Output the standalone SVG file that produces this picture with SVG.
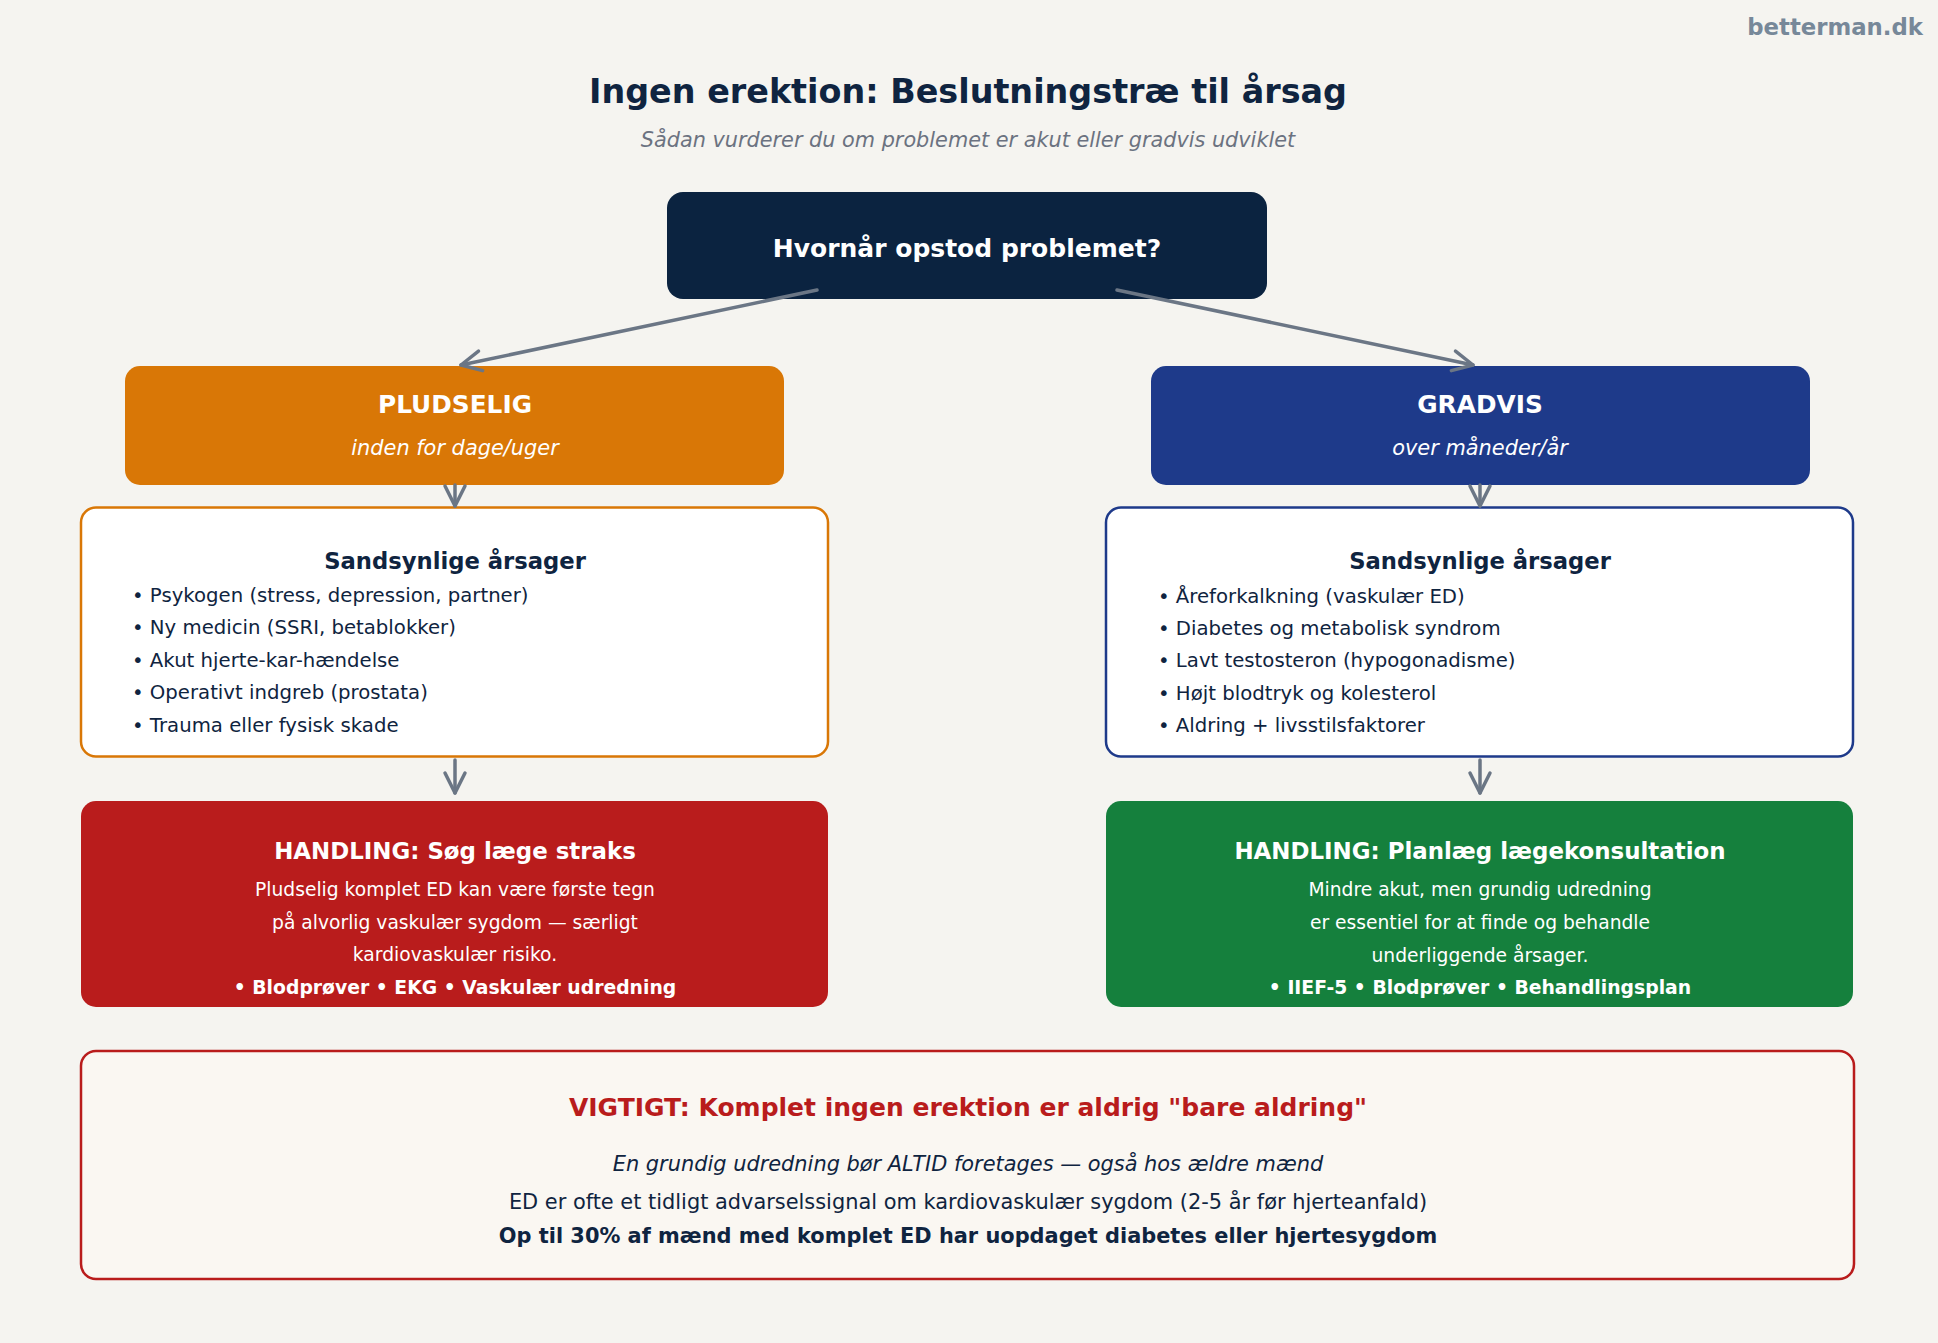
<svg xmlns="http://www.w3.org/2000/svg" width="1938" height="1343" viewBox="0 0 1938 1343">
<style>
text{font-family:"DejaVu Sans","Liberation Sans",sans-serif;}
.c{text-anchor:middle;}
.b{font-weight:bold;}
.i{font-style:italic;}
.w{fill:#ffffff;}
.d{fill:#0f2440;}
.conn{stroke:#6b7685;stroke-width:3.5;fill:none;stroke-linecap:round;}
.bul{font-size:19.7px;fill:#0f2440;}
.hd{font-size:22.7px;font-weight:bold;fill:#0f2440;text-anchor:middle;}
.at{font-size:22.9px;font-weight:bold;fill:#ffffff;text-anchor:middle;}
.ab{font-size:18.7px;fill:#ffffff;text-anchor:middle;}
.abb{font-size:18.8px;font-weight:bold;fill:#ffffff;text-anchor:middle;}
</style>
<defs>
<marker id="arr" markerUnits="userSpaceOnUse" viewBox="-24 -14 28 28" refX="0" refY="0" markerWidth="28" markerHeight="28" orient="auto">
<path d="M-20,-10 L0,0 L-20,10" fill="none" stroke="#6b7685" stroke-width="3.5" stroke-linecap="round" stroke-linejoin="round"/>
</marker>
</defs>
<rect x="0" y="0" width="1938" height="1343" fill="#f5f4f0"/>
<g transform="translate(0,1.5)">
<text x="1923" y="33" class="b" style="font-size:22.8px;fill:#778899;text-anchor:end">betterman.dk</text>
<text x="968" y="101" class="c b d" style="font-size:33.4px">Ingen erektion: Beslutningstræ til årsag</text>
<text x="968" y="145" class="c i" style="font-size:20.8px;fill:#6b7280">Sådan vurderer du om problemet er akut eller gradvis udviklet</text>
</g>

<g id="question">
<rect x="667" y="192" width="600" height="107" rx="16" fill="#0b2340"/>
<text x="967" y="257" class="c b w" style="font-size:25px">Hvornår opstod problemet?</text>
</g>

<g id="pludselig">
<rect x="125" y="366" width="659" height="119" rx="15" fill="#d97706"/>
<text x="455" y="413" class="c b w" style="font-size:24.8px">PLUDSELIG</text>
<text x="455" y="454.5" class="c i w" style="font-size:20.9px">inden for dage/uger</text>
</g>

<g id="gradvis">
<rect x="1151" y="366" width="659" height="119" rx="15" fill="#1e3a8a"/>
<text x="1480" y="413" class="c b w" style="font-size:24.8px">GRADVIS</text>
<text x="1480" y="454.5" class="c i w" style="font-size:20.9px">over måneder/år</text>
</g>

<g id="causes-left">
<rect x="81" y="507.5" width="747" height="249" rx="15" fill="#ffffff" stroke="#d97706" stroke-width="2.5"/>
<text x="455" y="568.5" class="hd">Sandsynlige årsager</text>
<text x="132" y="601.5" class="bul">• Psykogen (stress, depression, partner)</text>
<text x="132" y="634" class="bul">• Ny medicin (SSRI, betablokker)</text>
<text x="132" y="666.5" class="bul">• Akut hjerte-kar-hændelse</text>
<text x="132" y="699" class="bul">• Operativt indgreb (prostata)</text>
<text x="132" y="731.5" class="bul">• Trauma eller fysisk skade</text>
</g>

<g id="causes-right">
<rect x="1106" y="507.5" width="747" height="249" rx="15" fill="#ffffff" stroke="#1e3a8a" stroke-width="2.5"/>
<text x="1480" y="568.5" class="hd">Sandsynlige årsager</text>
<text x="1158" y="602.5" class="bul">• Åreforkalkning (vaskulær ED)</text>
<text x="1158" y="634.5" class="bul">• Diabetes og metabolisk syndrom</text>
<text x="1158" y="667" class="bul">• Lavt testosteron (hypogonadisme)</text>
<text x="1158" y="699.5" class="bul">• Højt blodtryk og kolesterol</text>
<text x="1158" y="732" class="bul">• Aldring + livsstilsfaktorer</text>
</g>

<g id="action-left">
<rect x="81" y="801" width="747" height="206" rx="15" fill="#b91c1c"/>
<text x="455" y="858.5" class="at">HANDLING: Søg læge straks</text>
<text x="455" y="895.5" class="ab">Pludselig komplet ED kan være første tegn</text>
<text x="455" y="928.5" class="ab">på alvorlig vaskulær sygdom — særligt</text>
<text x="455" y="960.5" class="ab">kardiovaskulær risiko.</text>
<text x="455" y="993.5" class="abb">• Blodprøver • EKG • Vaskulær udredning</text>
</g>

<g id="action-right">
<rect x="1106" y="801" width="747" height="206" rx="15" fill="#15803d"/>
<text x="1480" y="858.5" class="at">HANDLING: Planlæg lægekonsultation</text>
<text x="1480" y="895.5" class="ab">Mindre akut, men grundig udredning</text>
<text x="1480" y="928.5" class="ab">er essentiel for at finde og behandle</text>
<text x="1480" y="961.5" class="ab">underliggende årsager.</text>
<text x="1480" y="993.5" class="abb">• IIEF-5 • Blodprøver • Behandlingsplan</text>
</g>

<g id="important">
<rect x="81" y="1051" width="1773" height="228" rx="15" fill="#faf7f2" stroke="#b91c1c" stroke-width="2.5"/>
<text x="968" y="1115.5" class="c b" style="font-size:25px;fill:#b91c1c">VIGTIGT: Komplet ingen erektion er aldrig "bare aldring"</text>
<text x="968" y="1170.5" class="c i d" style="font-size:20.9px">En grundig udredning bør ALTID foretages — også hos ældre mænd</text>
<text x="968" y="1208.5" class="c d" style="font-size:20.9px">ED er ofte et tidligt advarselssignal om kardiovaskulær sygdom (2-5 år før hjerteanfald)</text>
<text x="968" y="1242.5" class="c b d" style="font-size:20.9px">Op til 30% af mænd med komplet ED har uopdaget diabetes eller hjertesygdom</text>
</g>

<g id="connectors">
<path class="conn" d="M817,290 L461,365" marker-end="url(#arr)"/>
<path class="conn" d="M1117,290 L1473,365" marker-end="url(#arr)"/>
<path class="conn" d="M455,485 L455,506" marker-end="url(#arr)"/>
<path class="conn" d="M1480,485 L1480,506" marker-end="url(#arr)"/>
<path class="conn" d="M455,760 L455,793" marker-end="url(#arr)"/>
<path class="conn" d="M1480,760 L1480,793" marker-end="url(#arr)"/>
</g>
</svg>
